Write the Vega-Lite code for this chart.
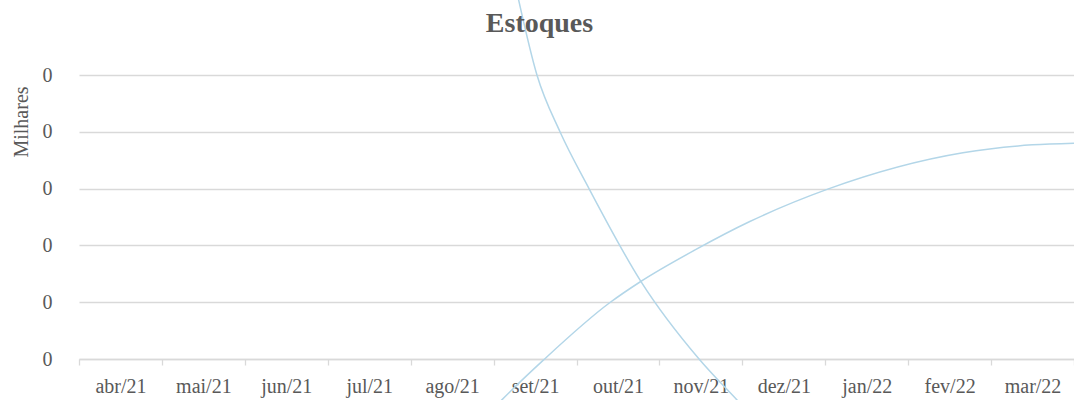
{
  "$schema": "https://vega.github.io/schema/vega-lite/v6.json",
  "width": 995,
  "height": 284,
  "autosize": {"type": "none"},
  "padding": {"left": 79, "top": 75, "right": 0, "bottom": 41},
  "background": "white",
  "title": {
    "text": "Estoques",
    "font": "Liberation Serif",
    "fontSize": 28,
    "fontWeight": "bold",
    "color": "#595959",
    "anchor": "middle",
    "frame": "group",
    "dx": -37,
    "baseline": "alphabetic",
    "offset": -68
  },
  "config": {
    "view": {"stroke": null},
    "axis": {"labelFont": "Liberation Serif", "titleFont": "Liberation Serif", "labelColor": "#595959", "titleColor": "#595959"}
  },
  "data": {
    "values": [
      {"s": "a", "t": 4.79, "v": 6.4},
      {"s": "a", "t": 5.023, "v": 5.0},
      {"s": "a", "t": 5.301, "v": 4.0},
      {"s": "a", "t": 5.651, "v": 3.0},
      {"s": "a", "t": 6.278, "v": 1.363},
      {"s": "a", "t": 6.978, "v": 0},
      {"s": "a", "t": 7.436, "v": -0.722},
      {"s": "a", "t": 7.954, "v": -1.514},
      {"s": "b", "t": 4.2, "v": -1.35},
      {"s": "b", "t": 4.6, "v": -0.72},
      {"s": "b", "t": 5.1, "v": -0.02},
      {"s": "b", "t": 5.9, "v": 0.99},
      {"s": "b", "t": 6.27, "v": 1.36},
      {"s": "b", "t": 6.93, "v": 1.92},
      {"s": "b", "t": 7.59, "v": 2.42},
      {"s": "b", "t": 8.53, "v": 2.99},
      {"s": "b", "t": 10.16, "v": 3.63},
      {"s": "b", "t": 11.0, "v": 3.77},
      {"s": "b", "t": 11.5, "v": 3.8}
    ]
  },
  "mark": {"type": "line", "interpolate": "monotone", "color": "#b3d6e8", "strokeWidth": 1.5, "clip": false},
  "encoding": {
    "detail": {"field": "s"},
    "x": {
      "field": "t",
      "type": "quantitative",
      "scale": {"domain": [-0.5, 11.5], "nice": false, "zero": false},
      "axis": {
        "title": null,
        "values": [-0.5, 0.5, 1.5, 2.5, 3.5, 4.5, 5.5, 6.5, 7.5, 8.5, 9.5, 10.5, 11.5],
        "labelExpr": "['abr/21','mai/21','jun/21','jul/21','ago/21','set/21','out/21','nov/21','dez/21','jan/22','fev/22','mar/22',''][round(datum.value + 0.5)]",
        "labelOffset": 41.46,
        "labelFlush": false,
        "labelOverlap": false,
        "labelBound": false,
        "labelFontSize": 20,
        "labelBaseline": "alphabetic",
        "labelPadding": 27,
        "grid": false,
        "domain": true,
        "domainColor": "#d9d9d9",
        "domainWidth": 1.3,
        "ticks": true,
        "tickColor": "#d9d9d9",
        "tickSize": 6,
        "tickWidth": 1.3
      }
    },
    "y": {
      "field": "v",
      "type": "quantitative",
      "scale": {"domain": [0, 5], "nice": false, "zero": false},
      "axis": {
        "title": "Milhares",
        "titleFontSize": 20,
        "titleFontWeight": "normal",
        "titleAngle": -90,
        "titleX": -52,
        "titleY": 46.5,
        "titleAlign": "center",
        "titleBaseline": "alphabetic",
        "values": [0, 1, 2, 3, 4, 5],
        "labelExpr": "format(datum.value / 1000, '.0f')",
        "labelFontSize": 20,
        "labelPadding": 27,
        "domain": false,
        "ticks": false,
        "grid": true,
        "gridColor": "#d9d9d9",
        "gridWidth": 1.3
      }
    }
  }
}
